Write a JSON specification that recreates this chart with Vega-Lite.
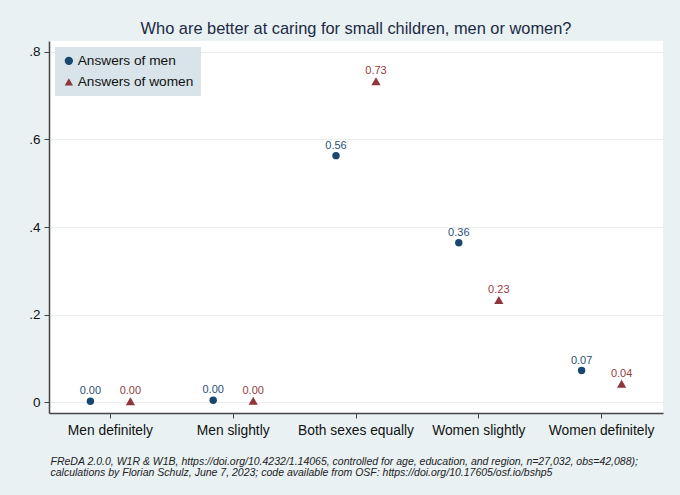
{
  "$schema": "https://vega.github.io/schema/vega-lite/v6.json",
  "autosize": {"type": "none"},
  "padding": {"left": 49, "top": 41, "right": 17, "bottom": 82},
  "width": 614,
  "height": 372,
  "background": "#e9f1f3",
  "title": {
    "text": "Who are better at caring for small children, men or women?",
    "font": "Arial, Liberation Sans",
    "fontSize": 16.4,
    "fontWeight": "normal",
    "color": "#1c2a45",
    "offset": 4
  },
  "config": {
    "view": {"fill": "white", "stroke": null},
    "font": "Arial, Liberation Sans"
  },
  "data": {
    "values": [
      {"answer": "Men definitely", "group": "Answers of men", "value": 0.002},
      {"answer": "Men definitely", "group": "Answers of women", "value": 0.002},
      {"answer": "Men slightly", "group": "Answers of men", "value": 0.004},
      {"answer": "Men slightly", "group": "Answers of women", "value": 0.003},
      {"answer": "Both sexes equally", "group": "Answers of men", "value": 0.563},
      {"answer": "Both sexes equally", "group": "Answers of women", "value": 0.733},
      {"answer": "Women slightly", "group": "Answers of men", "value": 0.364},
      {"answer": "Women slightly", "group": "Answers of women", "value": 0.233},
      {"answer": "Women definitely", "group": "Answers of men", "value": 0.072},
      {"answer": "Women definitely", "group": "Answers of women", "value": 0.042}
    ]
  },
  "encoding": {
    "x": {
      "field": "answer",
      "type": "nominal",
      "sort": ["Men definitely", "Men slightly", "Both sexes equally", "Women slightly", "Women definitely"],
      "scale": {"paddingInner": 0, "paddingOuter": 0},
      "axis": {
        "labelAngle": 0,
        "labelFontSize": 13.8,
        "labelColor": "#111111",
        "labelPadding": 5,
        "tickSize": 5,
        "tickColor": "#444444",
        "domainColor": "#444444",
        "domainWidth": 1.5,
        "grid": false,
        "title": [
          "FReDA 2.0.0, W1R & W1B, https://doi.org/10.4232/1.14065, controlled for age, education, and region, n=27,032, obs=42,088);",
          "calculations by Florian Schulz, June 7, 2023; code available from OSF: https://doi.org/10.17605/osf.io/bshp5"
        ],
        "titleFontSize": 10.5,
        "titleFontStyle": "italic",
        "titleFontWeight": "normal",
        "titleColor": "#222222",
        "titleAnchor": "start",
        "titleAlign": "left",
        "titleBaseline": "top",
        "titleX": 1,
        "titleY": 43,
        "titleLineHeight": 11.5
      }
    },
    "xOffset": {
      "field": "group",
      "type": "nominal",
      "scale": {"type": "point", "padding": 0, "range": [41.4, 81.4]}
    },
    "y": {
      "field": "value",
      "type": "quantitative",
      "scale": {"domain": [-0.025, 0.825], "nice": false, "zero": false},
      "axis": {
        "values": [0, 0.2, 0.4, 0.6, 0.8],
        "labelExpr": "datum.value == 0 ? '0' : replace(format(datum.value, '.1f'), '0.', '.')",
        "labelFontSize": 13.5,
        "labelColor": "#111111",
        "labelPadding": 4,
        "tickSize": 5,
        "tickColor": "#444444",
        "domainColor": "#444444",
        "domainWidth": 1.5,
        "gridColor": "#e8eef0",
        "gridWidth": 1.2,
        "title": null
      }
    }
  },
  "layer": [
    {
      "mark": {"type": "point", "filled": true, "opacity": 1},
      "encoding": {
        "size": {
          "condition": {"test": "datum.group == 'Answers of men'", "value": 55},
          "value": 85
        },
        "color": {
          "field": "group",
          "type": "nominal",
          "scale": {"domain": ["Answers of men", "Answers of women"], "range": ["#1a476f", "#90353b"]},
          "legend": {
            "title": null,
            "orient": "none",
            "legendX": 6,
            "legendY": 6,
            "fillColor": "#d8e4e9",
            "padding": 7,
            "rowPadding": 6,
            "labelFontSize": 13.7,
            "labelColor": "#111111",
            "labelOffset": 2,
            "symbolSize": 70,
            "symbolStrokeWidth": 0
          }
        },
        "shape": {
          "field": "group",
          "type": "nominal",
          "scale": {"domain": ["Answers of men", "Answers of women"], "range": ["circle", "triangle-up"]},
          "legend": {
            "title": null,
            "orient": "none",
            "legendX": 6,
            "legendY": 6,
            "fillColor": "#d8e4e9",
            "padding": 7,
            "rowPadding": 6,
            "labelFontSize": 13.7,
            "labelColor": "#111111",
            "labelOffset": 2,
            "symbolSize": 70,
            "symbolStrokeWidth": 0
          }
        }
      }
    },
    {
      "mark": {"type": "text", "dy": -10, "fontSize": 11},
      "encoding": {
        "text": {"field": "value", "type": "quantitative", "format": ".2f"},
        "color": {
          "condition": {"test": "datum.group == 'Answers of men'", "value": "#2d5178"},
          "value": "#953c42"
        }
      }
    }
  ]
}
